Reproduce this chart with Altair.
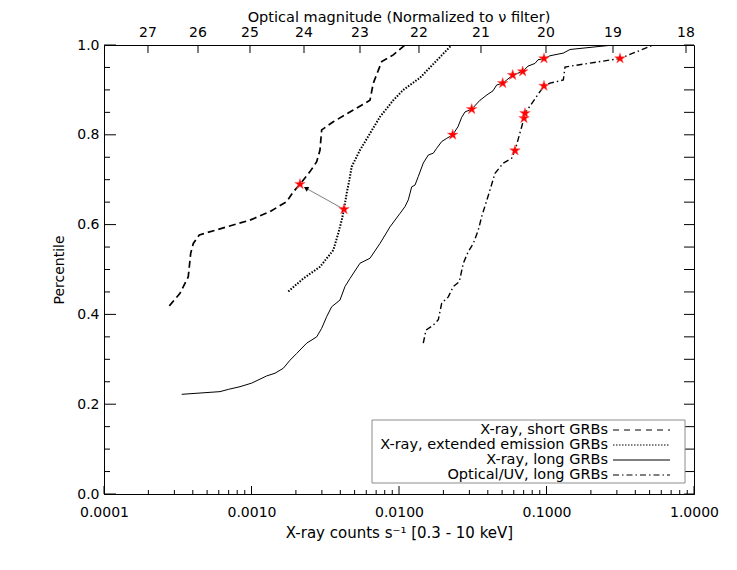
import altair as alt
import pandas as pd

FONT = "DejaVu Sans"
W, H = 590, 449

# ---------------- data ----------------
# X-ray, short GRBs (dashed)
short_x = [2.773e-4, 3.276e-4, 3.727e-4, 3.870e-4, 4.030e-4, 4.426e-4, 6.789e-4, 9.768e-4,
           1.335e-3, 1.732e-3, 1.920e-3, 2.132e-3, 2.492e-3, 2.767e-3, 2.913e-3, 2.991e-3,
           3.585e-3, 4.900e-3, 6.357e-3, 6.694e-3, 7.632e-3, 9.150e-3, 1.098e-2]
short_y = [0.419, 0.447, 0.484, 0.536, 0.558, 0.577, 0.595, 0.610, 0.629, 0.651, 0.673, 0.690,
           0.718, 0.740, 0.766, 0.811, 0.829, 0.855, 0.877, 0.915, 0.963, 0.978, 1.0]

# X-ray, extended emission GRBs (dotted)
ee_x = [1.776e-3, 2.245e-3, 2.913e-3, 3.585e-3, 3.878e-3, 4.089e-3, 4.238e-3, 4.420e-3, 4.604e-3,
        4.779e-3, 5.440e-3, 6.357e-3, 7.432e-3, 9.150e-3, 1.069e-2, 1.388e-2, 2.276e-2]
ee_y = [0.451, 0.480, 0.506, 0.543, 0.581, 0.610, 0.634, 0.670, 0.699, 0.729, 0.766, 0.803,
        0.840, 0.877, 0.900, 0.927, 1.0]

# X-ray, long GRBs (solid)
long_x = [3.363e-4, 6.113e-4, 6.964e-4, 8.356e-4, 1.003e-3, 1.268e-3, 1.443e-3, 1.643e-3,
          1.824e-3, 2.025e-3, 2.367e-3, 2.767e-3, 2.991e-3, 3.234e-3, 3.496e-3, 3.981e-3,
          4.304e-3, 4.654e-3, 5.440e-3, 6.357e-3, 7.432e-3, 8.690e-3, 1.016e-2, 1.098e-2,
          1.156e-2, 1.219e-2, 1.284e-2, 1.351e-2, 1.461e-2, 1.580e-2, 1.708e-2, 1.801e-2,
          1.948e-2, 2.106e-2, 2.312e-2, 2.512e-2, 2.661e-2, 2.803e-2, 3.111e-2, 3.540e-2,
          3.710e-2, 3.950e-2, 4.338e-2, 4.597e-2, 5.047e-2, 5.372e-2, 5.899e-2, 6.896e-2,
          7.492e-2, 8.356e-2, 8.757e-2, 9.618e-2, 0.1056, 0.1300, 0.1443, 0.2837]
long_y = [0.222, 0.228, 0.233, 0.239, 0.247, 0.263, 0.269, 0.280, 0.298, 0.313, 0.336, 0.350,
          0.369, 0.395, 0.417, 0.432, 0.462, 0.480, 0.514, 0.525, 0.558, 0.595, 0.625, 0.640,
          0.655, 0.684, 0.688, 0.707, 0.737, 0.755, 0.759, 0.770, 0.785, 0.792, 0.800, 0.818,
          0.839, 0.851, 0.857, 0.877, 0.882, 0.889, 0.898, 0.911, 0.915, 0.922, 0.933, 0.941,
          0.953, 0.959, 0.967, 0.970, 0.976, 0.982, 0.990, 1.0]

# Optical/UV, long GRBs (dash-dot)
opt_x = [1.461e-2, 1.524e-2, 1.708e-2, 1.847e-2, 1.948e-2, 2.159e-2, 2.334e-2, 2.564e-2,
         2.729e-2, 2.950e-2, 3.190e-2, 3.449e-2, 3.637e-2, 4.138e-2, 4.475e-2, 5.094e-2,
         5.808e-2, 6.114e-2, 6.789e-2, 7.037e-2, 7.146e-2, 9.618e-2, 0.1056, 0.1300, 0.1335,
         0.3150, 0.5297]
opt_y = [0.336, 0.365, 0.376, 0.388, 0.425, 0.439, 0.462, 0.473, 0.514, 0.540, 0.558, 0.588,
         0.618, 0.677, 0.714, 0.737, 0.748, 0.765, 0.818, 0.837, 0.848, 0.909, 0.915, 0.922,
         0.951, 0.970, 1.0]

# red stars
star_x = [2.132e-3, 4.238e-3,
          2.312e-2, 3.111e-2, 5.047e-2, 5.899e-2, 6.896e-2, 9.618e-2,
          6.114e-2, 7.037e-2, 7.146e-2, 9.618e-2, 0.3150]
star_y = [0.690, 0.634,
          0.800, 0.857, 0.915, 0.933, 0.941, 0.970,
          0.765, 0.837, 0.848, 0.909, 0.970]

# arrow (from extended-emission star towards short-GRB star)
arrow_x = [4.238e-3, 2.341e-3]
arrow_y = [0.634, 0.681]

# top axis: optical magnitudes and where they fall on the count-rate axis
mag_labels = ["27", "26", "25", "24", "23", "22", "21", "20", "19", "18"]
mag_pos = [1.987e-4, 4.338e-4, 9.768e-4, 2.270e-3, 5.440e-3, 1.366e-2, 3.596e-2, 9.922e-2,
           0.2824, 0.8826]

x_major = [1e-4, 1e-3, 1e-2, 1e-1, 1.0]
x_minor = [m * d for d in [1e-4, 1e-3, 1e-2, 1e-1] for m in range(2, 10)]
y_major = [0.0, 0.2, 0.4, 0.6, 0.8, 1.0]
y_minor = [0.05, 0.1, 0.15, 0.25, 0.3, 0.35, 0.45, 0.5, 0.55, 0.65, 0.7, 0.75, 0.85, 0.9, 0.95]

legend_labels = ["X-ray, short GRBs", "X-ray, extended emission GRBs",
                 "X-ray, long GRBs", "Optical/UV, long GRBs"]

STAR_PATH = ("M0,-1L0.2234,-0.3074L0.9511,-0.309L0.3614,0.1174L0.5878,0.809L0,0.38"
             "L-0.5878,0.809L-0.3614,0.1174L-0.9511,-0.309L-0.2234,-0.3074Z")

# ---------------- chart ----------------
xs = alt.Scale(type="log", domain=[1e-4, 1.0])
ys = alt.Scale(domain=[0, 1])

X_AXIS = alt.Axis(
    values=x_major, format=".4f", tickSize=0, labelPadding=11, grid=False,
    title="X-ray counts s\u207b\u00b9 [0.3 - 10 keV]", titlePadding=6, titleFontSize=15,
    labelFlush=False)
Y_AXIS = alt.Axis(
    values=y_major, format=".1f", tickSize=0, labelPadding=5, grid=False,
    title="Percentile", titlePadding=10)


def X(field="x"):
    return alt.X(f"{field}:Q", scale=xs, axis=X_AXIS)


def Y(field="y"):
    return alt.Y(f"{field}:Q", scale=ys, axis=Y_AXIS)


def line_layer(xv, yv, width, dash=None):
    df = pd.DataFrame({"x": xv, "y": yv, "i": list(range(len(xv)))})
    kw = dict(color="black", strokeWidth=width, clip=True)
    if dash:
        kw["strokeDash"] = dash
    return alt.Chart(df).mark_line(**kw).encode(x=X(), y=Y(), order="i:Q")


DASHES = [[7, 4], [1.5, 1.5], None, [6, 3, 1.5, 3]]
WIDTHS = [1.7, 2.0, 1.0, 1.4]

lines = [
    line_layer(short_x, short_y, WIDTHS[0], DASHES[0]),
    line_layer(ee_x, ee_y, WIDTHS[1], DASHES[1]),
    line_layer(long_x, long_y, WIDTHS[2]),
    line_layer(opt_x, opt_y, WIDTHS[3], DASHES[3]),
]

arrow_df = pd.DataFrame({"x": arrow_x, "y": arrow_y, "i": [0, 1]})
arrow_line = alt.Chart(arrow_df).mark_line(color="#808080", strokeWidth=1).encode(
    x=X(), y=Y(), order="i:Q")
arrow_head = alt.Chart(arrow_df.iloc[[1]]).mark_point(
    shape="triangle-up", filled=True, color="black", size=28, angle=299, opacity=1).encode(x=X(), y=Y())

stars = alt.Chart(pd.DataFrame({"x": star_x, "y": star_y})).mark_point(
    shape=STAR_PATH, filled=True, color="#ff0000", size=125, opacity=1,
    stroke="#ff6060", strokeWidth=0.5).encode(x=X(), y=Y())


# inward ticks
def xticks(vals, y0, y1):
    return alt.Chart(pd.DataFrame({"x": vals})).mark_rule(color="black", strokeWidth=1).encode(
        x=X(), y=alt.value(y0), y2=alt.value(y1))


def yticks(vals, x0, x1):
    return alt.Chart(pd.DataFrame({"y": vals})).mark_rule(color="black", strokeWidth=1).encode(
        y=Y(), x=alt.value(x0), x2=alt.value(x1))


ticks = [
    xticks(x_major, H, H - 8),
    xticks(x_minor, H, H - 4),
    xticks(mag_pos, 0, 8),
    yticks(y_major, 0, 12),
    yticks(y_minor, 0, 6),
    yticks(y_major + y_minor, W - 10, W),
]

top_labels = alt.Chart(pd.DataFrame({"x": mag_pos, "t": mag_labels})).mark_text(
    font=FONT, fontSize=14, align="center", baseline="middle", color="black").encode(
    x=X(), y=alt.value(-12), text="t:N")

top_title = alt.Chart(pd.DataFrame({"t": ["Optical magnitude (Normalized to \u03bd filter)"]})).mark_text(
    font=FONT, fontSize=14.5, align="center", baseline="middle", color="black").encode(
    x=alt.value(W / 2), y=alt.value(-27), text="t:N")

# legend (labels on the left, line samples on the right)
leg_box = alt.Chart(pd.DataFrame({"a": [0]})).mark_rect(
    fill="white", stroke="#8c8c8c", strokeWidth=1).encode(
    x=alt.value(268), x2=alt.value(581), y=alt.value(375), y2=alt.value(438))

row_y = [385, 400, 415, 430]
leg_layers = [leg_box]
for i, lab in enumerate(legend_labels):
    leg_layers.append(
        alt.Chart(pd.DataFrame({"t": [lab]})).mark_text(
            font=FONT, fontSize=14.5, align="right", baseline="middle", color="black").encode(
            x=alt.value(504), y=alt.value(row_y[i]), text="t:N"))
    kw = dict(color="black", strokeWidth=min(WIDTHS[i], 1.2))
    if DASHES[i]:
        kw["strokeDash"] = DASHES[i] if i != 0 else [6, 5]
    leg_layers.append(
        alt.Chart(pd.DataFrame({"a": [0]})).mark_rule(**kw).encode(
            x=alt.value(509), x2=alt.value(566), y=alt.value(row_y[i])))

chart = alt.layer(
    *lines, arrow_line, arrow_head, stars, *ticks, top_labels, top_title, *leg_layers
).properties(
    width=W, height=H,
    autosize=alt.AutoSizeParams(type="none"),
    padding={"left": 96, "top": 37, "right": 35, "bottom": 60},
).configure_view(
    stroke="black", strokeWidth=1
).configure_axis(
    labelFont=FONT, labelFontSize=14, labelColor="black",
    titleFont=FONT, titleFontSize=14, titleFontWeight="normal", titleColor="black",
    domainColor="black", domainWidth=1,
)

chart.save("out.html", embed_options={"renderer": "svg", "actions": False})
